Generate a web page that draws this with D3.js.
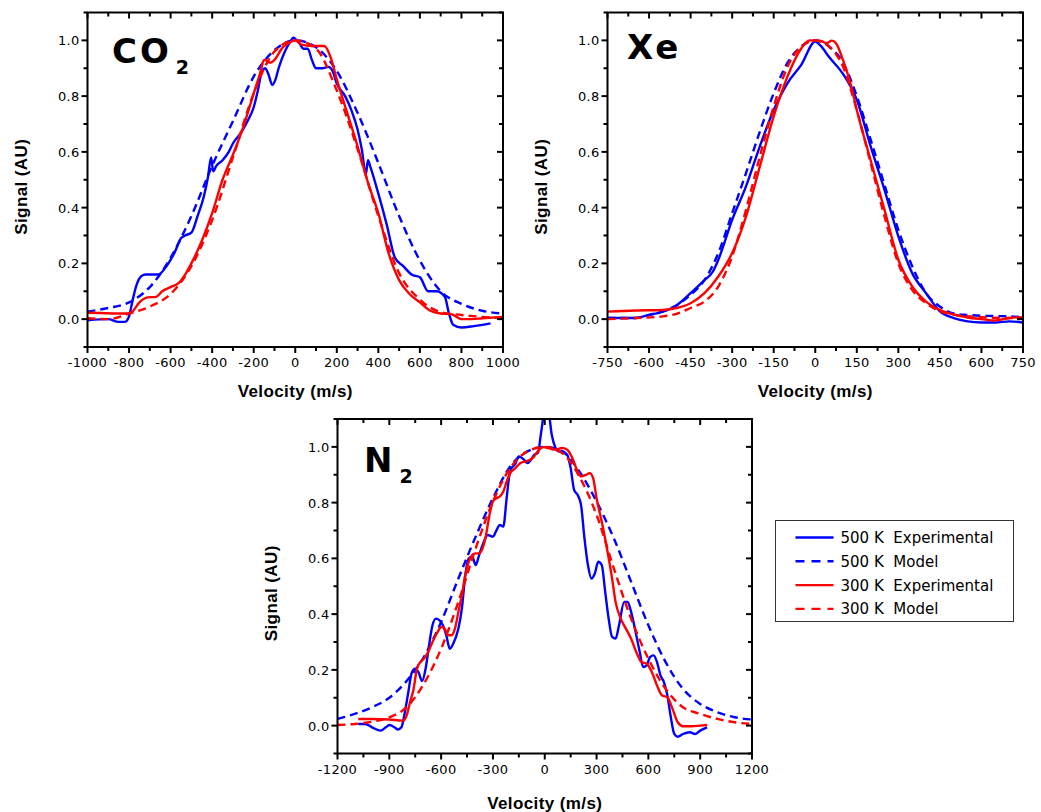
<!DOCTYPE html>
<html>
<head>
<meta charset="utf-8">
<script src="https://d3js.org/d3.v7.min.js"></script>
<style>
  body { margin: 0; background: #fff; }
  svg { display: block; }
  .tick-label { font-family: "DejaVu Sans", Verdana, sans-serif; font-size: 13px; fill: #000; letter-spacing: 0.3px; }
  .axis-title { font-family: "Liberation Sans", Arial, sans-serif; font-size: 17px; font-weight: bold; fill: #000; letter-spacing: 0.4px; }
  .panel-label { font-family: "DejaVu Sans", Verdana, sans-serif; font-weight: bold; fill: #000; }
  .legend-text { font-family: "DejaVu Sans", Verdana, sans-serif; font-size: 15px; fill: #000; }
</style>
</head>
<body>
<svg id="chart" width="1041" height="812"></svg>
<script>
// ---- data: [velocity m/s, signal AU] ----
const co2Exp500 = [[-1000,-0.004],[-900,0.0],[-850,-0.01],[-820,-0.01],[-800,0.01],[-785,0.06],[-765,0.12],[-740,0.155],[-720,0.16],[-700,0.16],[-660,0.16],[-620,0.19],[-580,0.24],[-550,0.29],[-530,0.30],[-500,0.31],[-470,0.37],[-440,0.44],[-420,0.51],[-405,0.58],[-395,0.53],[-380,0.55],[-350,0.57],[-320,0.60],[-300,0.63],[-260,0.67],[-230,0.71],[-200,0.76],[-180,0.82],[-160,0.89],[-145,0.90],[-130,0.88],[-110,0.84],[-95,0.86],[-80,0.90],[-50,0.96],[-20,1.0],[-10,1.01],[0,1.005],[20,0.99],[40,0.97],[60,0.97],[80,0.93],[100,0.90],[130,0.90],[160,0.905],[180,0.89],[200,0.845],[240,0.80],[270,0.75],[300,0.68],[320,0.61],[340,0.52],[350,0.57],[360,0.55],[400,0.45],[440,0.34],[480,0.22],[520,0.19],[560,0.16],[600,0.15],[640,0.10],[680,0.10],[720,0.08],[740,0.02],[760,-0.02],[800,-0.03],[860,-0.025],[940,-0.015]];
const co2Mod500 = [[-1000,0.027],[-900,0.04],[-800,0.06],[-700,0.115],[-600,0.22],[-500,0.37],[-400,0.55],[-300,0.71],[-200,0.87],[-100,0.965],[0,1.0],[100,0.975],[200,0.89],[300,0.74],[400,0.56],[500,0.37],[600,0.21],[700,0.10],[800,0.055],[900,0.03],[1000,0.02]];
const co2Exp300 = [[-1000,0.023],[-800,0.02],[-780,0.03],[-750,0.06],[-710,0.078],[-670,0.08],[-640,0.10],[-600,0.115],[-560,0.13],[-530,0.16],[-500,0.20],[-450,0.28],[-400,0.38],[-350,0.50],[-300,0.59],[-250,0.69],[-200,0.81],[-170,0.88],[-150,0.93],[-120,0.92],[-100,0.93],[-60,0.975],[-20,0.995],[0,1.0],[30,0.985],[80,0.98],[140,0.98],[170,0.94],[200,0.86],[250,0.74],[300,0.62],[350,0.49],[400,0.38],[450,0.235],[500,0.14],[550,0.09],[600,0.06],[650,0.03],[700,0.02],[750,0.018],[800,0.0],[850,0.0],[900,0.003],[1000,0.008]];
const co2Mod300 = [[-1000,0.003],[-900,0.0],[-800,0.02],[-700,0.045],[-600,0.09],[-500,0.19],[-400,0.355],[-300,0.58],[-200,0.81],[-100,0.96],[0,1.0],[100,0.97],[200,0.82],[300,0.61],[400,0.37],[500,0.165],[600,0.07],[700,0.025],[800,0.015],[900,0.008],[1000,0.003]];

const xeExp500 = [[-750,0.004],[-650,0.004],[-600,0.015],[-550,0.027],[-500,0.05],[-450,0.093],[-400,0.14],[-370,0.17],[-350,0.213],[-300,0.356],[-250,0.476],[-200,0.62],[-150,0.75],[-100,0.847],[-50,0.913],[0,0.996],[20,0.98],[50,0.94],[100,0.88],[150,0.787],[200,0.62],[250,0.464],[300,0.297],[350,0.165],[400,0.093],[450,0.028],[500,0.004],[550,-0.008],[600,-0.012],[650,-0.012],[700,-0.008],[750,-0.012]];
const xeMod500 = [[-750,0.004],[-650,0.004],[-600,0.015],[-500,0.05],[-450,0.087],[-400,0.14],[-350,0.237],[-300,0.38],[-250,0.524],[-200,0.673],[-150,0.81],[-100,0.92],[-50,0.978],[0,1.0],[50,0.978],[100,0.92],[150,0.80],[200,0.644],[250,0.482],[300,0.32],[350,0.19],[400,0.093],[450,0.045],[500,0.02],[550,0.015],[600,0.012],[700,0.01],[750,0.007]];
const xeExp300 = [[-750,0.027],[-650,0.031],[-550,0.033],[-500,0.04],[-450,0.057],[-400,0.093],[-350,0.153],[-300,0.237],[-250,0.368],[-200,0.548],[-150,0.727],[-100,0.871],[-50,0.972],[-20,1.0],[20,0.998],[40,0.99],[60,0.999],[75,0.99],[100,0.93],[130,0.835],[150,0.75],[200,0.57],[250,0.392],[300,0.213],[350,0.117],[400,0.063],[450,0.033],[500,0.016],[550,0.006],[600,0.0],[650,-0.005],[700,0.004],[750,0.007]];
const xeMod300 = [[-750,0.0],[-650,0.004],[-550,0.01],[-500,0.019],[-450,0.04],[-400,0.063],[-350,0.117],[-300,0.225],[-250,0.392],[-200,0.584],[-150,0.763],[-100,0.906],[-50,0.978],[0,1.0],[50,0.978],[100,0.906],[150,0.75],[200,0.56],[250,0.368],[300,0.2],[350,0.105],[400,0.057],[450,0.028],[500,0.016],[600,0.007],[700,0.004],[750,0.004]];

const n2Exp500 = [[-1080,0.006],[-1040,0.006],[-1000,-0.006],[-950,-0.018],[-920,-0.006],[-900,0.002],[-870,-0.006],[-850,-0.014],[-830,-0.006],[-810,0.048],[-790,0.12],[-770,0.19],[-750,0.204],[-730,0.19],[-710,0.16],[-690,0.204],[-670,0.288],[-650,0.36],[-630,0.384],[-610,0.378],[-590,0.36],[-570,0.324],[-550,0.276],[-530,0.294],[-500,0.348],[-480,0.42],[-460,0.54],[-440,0.60],[-420,0.606],[-400,0.576],[-380,0.612],[-360,0.648],[-330,0.684],[-300,0.678],[-280,0.70],[-260,0.72],[-240,0.714],[-220,0.82],[-200,0.916],[-170,0.94],[-150,0.966],[-120,0.954],[-100,0.942],[-80,0.954],[-60,0.972],[-40,0.978],[-20,1.056],[0,1.13],[20,1.13],[40,1.045],[60,1.0],[80,0.984],[100,0.984],[130,0.972],[150,0.924],[170,0.846],[190,0.828],[210,0.792],[230,0.672],[250,0.576],[270,0.528],[290,0.546],[310,0.588],[330,0.576],[350,0.48],[370,0.384],[390,0.318],[410,0.312],[430,0.36],[460,0.444],[480,0.444],[500,0.408],[530,0.324],[550,0.264],[570,0.21],[590,0.216],[610,0.246],[630,0.252],[650,0.228],[670,0.18],[690,0.156],[710,0.108],[730,0.03],[750,-0.03],[770,-0.04],[800,-0.03],[840,-0.024],[870,-0.03],[900,-0.018],[940,-0.006]];
const n2Mod500 = [[-1200,0.024],[-1100,0.042],[-1000,0.066],[-900,0.10],[-800,0.16],[-700,0.246],[-600,0.372],[-500,0.528],[-400,0.678],[-300,0.816],[-200,0.93],[-100,0.984],[0,1.0],[100,0.984],[200,0.912],[300,0.804],[400,0.672],[500,0.516],[600,0.36],[700,0.228],[800,0.132],[900,0.078],[1000,0.048],[1100,0.03],[1200,0.022]];
const n2Exp300 = [[-1080,0.024],[-1000,0.024],[-900,0.022],[-820,0.018],[-800,0.036],[-780,0.084],[-760,0.13],[-740,0.204],[-720,0.228],[-700,0.24],[-680,0.258],[-650,0.30],[-620,0.336],[-600,0.354],[-580,0.348],[-560,0.324],[-540,0.324],[-520,0.348],[-500,0.408],[-480,0.468],[-460,0.54],[-440,0.588],[-420,0.612],[-400,0.618],[-380,0.618],[-360,0.636],[-340,0.684],[-320,0.756],[-300,0.804],[-280,0.816],[-260,0.822],[-240,0.84],[-220,0.876],[-200,0.906],[-170,0.924],[-140,0.942],[-100,0.95],[-70,0.96],[-40,0.984],[-10,0.999],[20,0.996],[60,0.99],[100,0.996],[130,0.99],[160,0.96],[190,0.912],[210,0.894],[240,0.90],[260,0.906],[280,0.888],[300,0.816],[330,0.732],[360,0.636],[390,0.528],[410,0.444],[440,0.384],[470,0.348],[500,0.312],[530,0.264],[560,0.228],[590,0.222],[620,0.192],[650,0.144],[680,0.108],[710,0.102],[740,0.06],[770,0.012],[800,-0.002],[850,-0.002],[900,0.0],[940,0.002]];
const n2Mod300 = [[-1200,0.002],[-1100,0.006],[-1000,0.014],[-900,0.03],[-800,0.066],[-700,0.15],[-600,0.276],[-500,0.444],[-400,0.636],[-300,0.804],[-200,0.924],[-100,0.984],[0,1.0],[100,0.978],[200,0.894],[300,0.756],[400,0.564],[500,0.384],[600,0.24],[700,0.132],[800,0.066],[900,0.042],[1000,0.024],[1100,0.012],[1200,0.006]];

const yTickValues = [0.0, 0.2, 0.4, 0.6, 0.8, 1.0];
const co2XTicks = [-1000, -800, -600, -400, -200, 0, 200, 400, 600, 800, 1000];
const xeXTicks = [-750, -600, -450, -300, -150, 0, 150, 300, 450, 600, 750];
const n2XTicks = [-1200, -900, -600, -300, 0, 300, 600, 900, 1200];

const legendLabels = ['500 K  Experimental', '500 K  Model', '300 K  Experimental', '300 K  Model'];
const seriesColors = ['#0000ff', '#0000ff', '#ff0000', '#ff0000'];
const seriesDashed = [false, true, false, true];

const svg = d3.select('#chart');

const panels = [
  { id: 'co2', label: 'CO', sub: '2', ticks: co2XTicks, x0: 87.5, y0: 12.5, w: 415.5, h: 334.5,
    series: [co2Exp500, co2Mod500, co2Exp300, co2Mod300], labelPos: [112, 63], titleY: 397 },
  { id: 'xe', label: 'Xe', sub: null, ticks: xeXTicks, x0: 607.5, y0: 12.5, w: 415.5, h: 334.5,
    series: [xeExp500, xeMod500, xeExp300, xeMod300], labelPos: [627, 59], titleY: 397 },
  { id: 'n2', label: 'N', sub: '2', ticks: n2XTicks, x0: 337.5, y0: 419, w: 414.5, h: 334.5,
    series: [n2Exp500, n2Mod500, n2Exp300, n2Mod300], labelPos: [364, 472], titleY: 809 }
];

panels.forEach(function (p) {
  const g = svg.append('g').attr('transform', 'translate(' + p.x0 + ',' + p.y0 + ')');
  const x = d3.scaleLinear().domain([p.ticks[0], p.ticks[p.ticks.length - 1]]).range([0, p.w]);
  const y = d3.scaleLinear().domain([-0.1, 1.1]).range([p.h, 0]);
  const step = p.ticks[1] - p.ticks[0];
  const minorX = d3.range(p.ticks[0] + step / 2, p.ticks[p.ticks.length - 1], step);
  const minorY = [-0.1, 0.1, 0.3, 0.5, 0.7, 0.9, 1.1];

  g.append('clipPath').attr('id', 'clip-' + p.id)
    .append('rect').attr('width', p.w).attr('height', p.h);

  // curves
  const line = d3.line().x(d => x(d[0])).y(d => y(d[1])).curve(d3.curveMonotoneX);
  const lines = g.append('g').attr('clip-path', 'url(#clip-' + p.id + ')');
  p.series.forEach(function (s, i) {
    lines.append('path')
      .datum(s)
      .attr('d', line)
      .attr('fill', 'none')
      .attr('stroke', seriesColors[i])
      .attr('stroke-width', 2.4)
      .attr('stroke-dasharray', seriesDashed[i] ? '8,5' : null);
  });

  // frame
  g.append('rect').attr('width', p.w).attr('height', p.h)
    .attr('fill', 'none').attr('stroke', '#000').attr('stroke-width', 2);

  // ticks: left/bottom outward, right/top inward
  const tk = g.append('g').attr('stroke', '#000').attr('stroke-width', 2);
  p.ticks.forEach(function (v) {
    tk.append('line').attr('x1', x(v)).attr('x2', x(v)).attr('y1', p.h).attr('y2', p.h + 6);
    tk.append('line').attr('x1', x(v)).attr('x2', x(v)).attr('y1', 0).attr('y2', 6);
  });
  minorX.forEach(function (v) {
    tk.append('line').attr('x1', x(v)).attr('x2', x(v)).attr('y1', p.h).attr('y2', p.h + 4);
    tk.append('line').attr('x1', x(v)).attr('x2', x(v)).attr('y1', 0).attr('y2', 4);
  });
  yTickValues.forEach(function (v) {
    tk.append('line').attr('x1', -6).attr('x2', 0).attr('y1', y(v)).attr('y2', y(v));
    tk.append('line').attr('x1', p.w - 6).attr('x2', p.w).attr('y1', y(v)).attr('y2', y(v));
  });
  minorY.forEach(function (v) {
    tk.append('line').attr('x1', -4).attr('x2', 0).attr('y1', y(v)).attr('y2', y(v));
    tk.append('line').attr('x1', p.w - 4).attr('x2', p.w).attr('y1', y(v)).attr('y2', y(v));
  });

  // tick labels
  g.selectAll('text.xl').data(p.ticks).join('text')
    .attr('class', 'tick-label')
    .attr('x', d => x(d)).attr('y', p.h + 20)
    .attr('text-anchor', 'middle')
    .text(d => d);
  g.selectAll('text.yl').data(yTickValues).join('text')
    .attr('class', 'tick-label')
    .attr('x', -8).attr('y', d => y(d) + 5)
    .attr('text-anchor', 'end')
    .text(d => d3.format('.1f')(d));

  // axis titles
  svg.append('text').attr('class', 'axis-title')
    .attr('x', p.x0 + p.w / 2).attr('y', p.titleY)
    .attr('text-anchor', 'middle')
    .text('Velocity (m/s)');
  svg.append('text').attr('class', 'axis-title')
    .attr('transform', 'translate(' + (p.x0 - 61) + ',' + (p.y0 + p.h / 2 + 7) + ') rotate(-90)')
    .attr('text-anchor', 'middle')
    .text('Signal (AU)');

  // species label
  const lbl = svg.append('text').attr('class', 'panel-label')
    .attr('x', p.labelPos[0]).attr('y', p.labelPos[1])
    .attr('font-size', 34).attr('letter-spacing', 3);
  lbl.append('tspan').text(p.label);
  if (p.sub) {
    lbl.append('tspan').attr('dx', 4).attr('dy', 11).attr('font-size', 19).text(p.sub);
  }
});

// legend
const leg = svg.append('g').attr('transform', 'translate(775.5,520.5)');
leg.append('rect').attr('width', 238).attr('height', 101)
  .attr('fill', '#fff').attr('stroke', '#333').attr('stroke-width', 1);
legendLabels.forEach(function (t, i) {
  const yy = 17 + i * 23.8;
  leg.append('line')
    .attr('x1', 20).attr('x2', 58).attr('y1', yy).attr('y2', yy)
    .attr('stroke', seriesColors[i]).attr('stroke-width', 2.4)
    .attr('stroke-dasharray', seriesDashed[i] ? '9,7' : null);
  leg.append('text').attr('class', 'legend-text')
    .attr('x', 65).attr('y', yy + 5.5)
    .attr('xml:space', 'preserve')
    .style('white-space', 'pre')
    .text(t);
});
</script>
</body>
</html>
